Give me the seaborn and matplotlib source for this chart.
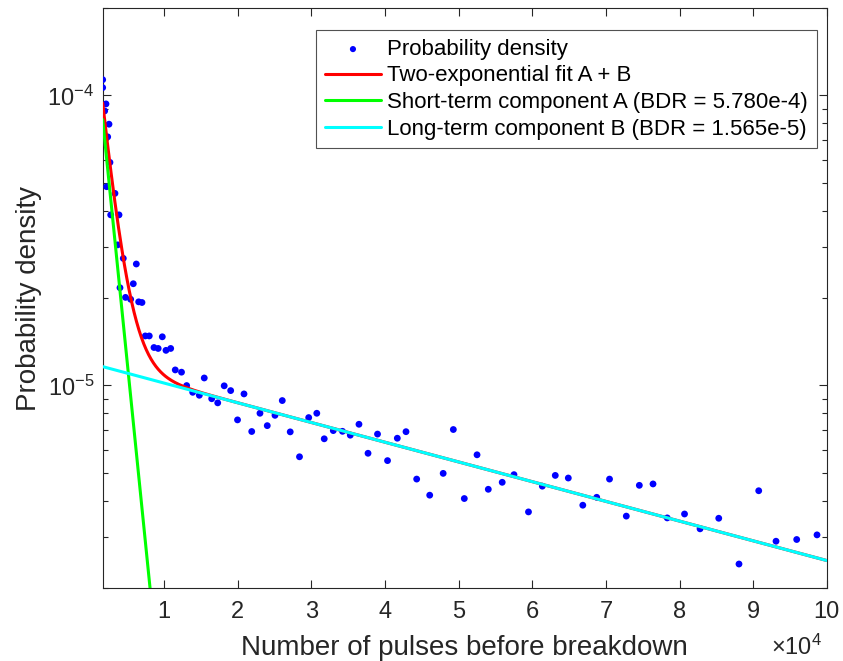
import numpy as np
import pandas as pd
import matplotlib
matplotlib.use("Agg")
import matplotlib.pyplot as plt
import matplotlib.ticker as mticker
import seaborn as sns

# ========== data ==========
# number of pulses before breakdown (bin positions) and measured probability density
pulses = [1630, 1630, 2080, 1900, 2490, 2310, 2620, 2170, 3300, 2720,
          3850, 3670, 4430, 6200, 5790, 3980, 4730, 5430, 6520, 6970,
          7420, 7960, 9730, 8600, 9170, 10230, 10870, 11490, 12340, 13040,
          13860, 14760, 15430, 16440, 17260, 18140, 19020, 19950, 20830, 21880,
          23000, 23990, 25040, 26030, 27110, 28370, 29620, 30720, 31730, 32960,
          34210, 35270, 36450, 37680, 38970, 40330, 41660, 42840, 44290, 46060,
          47890, 49270, 50760, 52490, 54020, 55910, 57510, 59480, 61360, 63120,
          64890, 66860, 68750, 70490, 72770, 74540, 76400, 78330, 80680, 82790,
          85330, 88080, 90760, 93110, 95920, 98680]
density = [113.2, 106.3, 93.4, 88.3, 79.5, 71.9, 58.7, 48.4, 45.9, 38.7,
           38.7, 30.5, 27.4, 26.2, 22.4, 21.7, 20.1, 19.8, 19.4, 19.3,
           14.8, 14.8, 14.7, 13.5, 13.4, 13.2, 13.4, 11.3, 11.1, 9.98,
           9.46, 9.24, 10.6, 8.99, 8.70, 9.96, 9.59, 7.60, 9.34, 6.93,
           8.01, 7.26, 7.88, 8.86, 6.91, 5.67, 7.74, 8.01, 6.54, 6.98,
           6.94, 6.73, 7.34, 5.83, 6.79, 5.50, 6.57, 6.92, 4.75, 4.18,
           4.97, 7.04, 4.07, 5.76, 4.38, 4.63, 4.92, 3.66, 4.49, 4.89,
           4.79, 3.86, 4.11, 4.75, 3.54, 4.52, 4.57, 3.49, 3.60, 3.20,
           3.48, 2.42, 4.33, 2.90, 2.94, 3.05]
density = [d * 1e-6 for d in density]

# two-exponential fit parameters (BDR from the legend, amplitudes at the first bin)
fit_start = 1630
fit_end = 100000
bdr_a = 5.780e-4
bdr_b = 1.565e-5
amp_a = 8.25e-5
amp_b = 1.16e-5

labels = ['Probability density',
          'Two-exponential fit A + B',
          'Short-term component A (BDR = 5.780e-4)',
          'Long-term component B (BDR = 1.565e-5)']

# ========== style ==========
sns.set_style("ticks")
plt.rcParams['font.family'] = ['Liberation Sans', 'DejaVu Sans']
plt.rcParams['mathtext.fontset'] = 'custom'
plt.rcParams['mathtext.rm'] = 'Liberation Sans'
plt.rcParams['mathtext.it'] = 'Liberation Sans:italic'
plt.rcParams['mathtext.bf'] = 'Liberation Sans:bold'
plt.rcParams['axes.unicode_minus'] = False
txt_color = '#262626'

# ========== fit curves ==========
xf = np.linspace(fit_start, fit_end, 600)
comp_a = amp_a * np.exp(-bdr_a * (xf - fit_start))
comp_b = amp_b * np.exp(-bdr_b * (xf - fit_start))
fit_df = pd.DataFrame({'x': xf, 'A': comp_a, 'B': comp_b, 'AB': comp_a + comp_b})
pts_df = pd.DataFrame({'x': pulses, 'y': density})

fig = plt.figure(figsize=(8.43, 6.61), dpi=100)
ax = fig.add_axes([0.1218, 0.1104, 0.8589, 0.8775])

sns.scatterplot(data=pts_df, x='x', y='y', ax=ax, color='#0000ff', s=24,
                edgecolor='none', label=labels[0], zorder=3)
sns.lineplot(data=fit_df, x='x', y='AB', ax=ax, color='#ff0000', lw=2.2,
             label=labels[1], zorder=4)
sns.lineplot(data=fit_df, x='x', y='A', ax=ax, color='#00ff00', lw=2.2,
             label=labels[2], zorder=5)
sns.lineplot(data=fit_df, x='x', y='B', ax=ax, color='#00ffff', lw=2.2,
             label=labels[3], zorder=6)

ax.set_yscale('log')
ax.set_xlim(fit_start, fit_end)
ax.set_ylim(2e-6, 2e-4)

ax.xaxis.set_major_locator(mticker.MultipleLocator(1e4))
ax.xaxis.set_major_formatter(mticker.FuncFormatter(lambda v, p: f"{v / 1e4:g}"))
ax.yaxis.set_minor_formatter(mticker.NullFormatter())

ax.tick_params(which='both', direction='in', top=True, right=True,
               colors=txt_color, labelsize=17, width=0.8)
ax.tick_params(which='major', length=6)
ax.tick_params(which='minor', length=3.5)
ax.tick_params(axis='x', which='major', pad=9)
ax.tick_params(axis='y', which='major', pad=6)
for sp in ax.spines.values():
    sp.set_visible(True)
    sp.set_color(txt_color)
    sp.set_linewidth(0.8)

ax.set_xlabel('Number of pulses before breakdown', fontsize=20, color=txt_color, labelpad=9)
ax.set_ylabel('Probability density', fontsize=20, color=txt_color, labelpad=4)
fig.text(0.975, 0.002, r'$\times10^{4}$', fontsize=17, color=txt_color, ha='right', va='bottom')

leg = ax.legend(loc='upper right', bbox_to_anchor=(0.9866, 0.962), borderaxespad=0,
                fontsize=16, frameon=True, fancybox=False, handlelength=2.5,
                labelspacing=0.25, borderpad=0.4, handletextpad=0.3,
                markerscale=0.9)
leg.get_frame().set_edgecolor(txt_color)
leg.get_frame().set_linewidth(0.8)
for t in leg.get_texts():
    t.set_color('black')

fig.savefig('out.png', dpi=100, facecolor='white')
